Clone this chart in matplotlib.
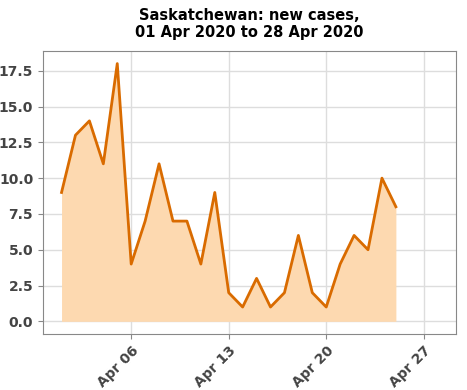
import pandas as pd
import numpy as np
from matplotlib import pyplot as plt
import matplotlib.dates as mdates

# daily new cases, Saskatchewan
dates = pd.date_range('2020-04-01', '2020-04-25', freq='D')
new_cases = [9, 13, 14, 11, 18, 4, 7, 11, 7, 7, 4, 9, 2, 1, 3, 1, 2, 6, 2, 1, 4, 6, 5, 10, 8]
tick_dates = pd.to_datetime(['2020-04-06', '2020-04-13', '2020-04-20', '2020-04-27'])

fig, ax = plt.subplots(figsize=(4.67, 3.9), dpi=100)

ax.fill_between(dates, new_cases, 0, color='#fdd9b0', linewidth=0, zorder=1)
ax.plot(dates, new_cases, color='#d96b00', linewidth=2, zorder=3)

ax.set_xlim(pd.Timestamp('2020-03-30 16:00'), pd.Timestamp('2020-04-29 08:00'))
ax.set_ylim(-0.9, 18.9)
ax.set_yticks(np.arange(0, 18, 2.5))
ax.yaxis.set_major_formatter(plt.FormatStrFormatter('%.1f'))
ax.set_xticks(tick_dates)
ax.xaxis.set_major_formatter(mdates.DateFormatter('%b %d'))

ax.grid(True, color='#dddddd', linewidth=1, zorder=0)
ax.set_axisbelow(True)
for s in ax.spines.values():
    s.set_color('#888888')

ax.tick_params(colors='#888888', labelcolor='#444444')
for lbl in ax.get_xticklabels():
    lbl.set_rotation(45)
    lbl.set_ha('right')
    lbl.set_rotation_mode('anchor')
    lbl.set_fontweight('bold')
    lbl.set_fontsize(10)
for lbl in ax.get_yticklabels():
    lbl.set_fontweight('bold')
    lbl.set_fontsize(10)

ax.set_title('Saskatchewan: new cases,\n01 Apr 2020 to 28 Apr 2020',
             fontweight='bold', fontsize=10.5, linespacing=1.15, pad=10)

plt.subplots_adjust(left=0.092, right=0.977, top=0.87, bottom=0.143)
plt.savefig('out.png')
